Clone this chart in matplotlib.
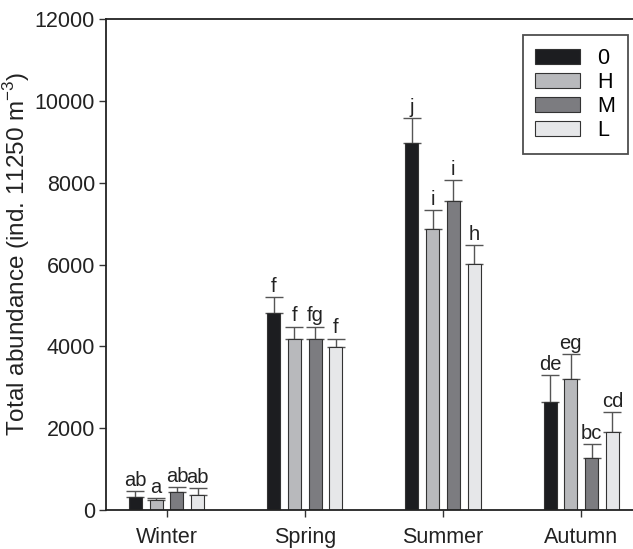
import matplotlib
matplotlib.use("Agg")
import matplotlib.pyplot as plt
import numpy as np

plt.rcParams["font.family"] = ["Liberation Sans", "DejaVu Sans"]
plt.rcParams["mathtext.fontset"] = "custom"
plt.rcParams["mathtext.rm"] = "Liberation Sans"

seasons = ["Winter", "Spring", "Summer", "Autumn"]
groups = ["0", "H", "M", "L"]
means = {
    "0": [320, 4810, 8980, 2650],
    "H": [245, 4170, 6860, 3195],
    "M": [440, 4170, 7555, 1280],
    "L": [370, 3990, 6015, 1915],
}
upper_err = {
    "0": [145, 395, 595, 650],
    "H": [45, 310, 475, 620],
    "M": [120, 310, 515, 325],
    "L": [170, 200, 465, 475],
}
letters = {
    "0": ["ab", "f", "j", "de"],
    "H": ["a", "f", "i", "eg"],
    "M": ["ab", "fg", "i", "bc"],
    "L": ["ab", "f", "h", "cd"],
}
colors = {"0": "#1c1d20", "H": "#b8b9bc", "M": "#7c7c80", "L": "#e6e7e9"}

fig = plt.figure(figsize=(6.33, 5.49), dpi=100)
ax = fig.add_axes([0.1675, 0.071, 0.84, 0.894])

x = np.arange(len(seasons))
width = 0.095
step = 0.15
for i, g in enumerate(groups):
    pos = x + (i - 1.5) * step
    ax.bar(pos, means[g], width, color=colors[g], edgecolor="#333333",
           linewidth=0.8, label=g, zorder=2)
    ax.errorbar(pos, means[g], yerr=[np.zeros(4), upper_err[g]], fmt="none",
                ecolor="#555555", elinewidth=1.0, capsize=6.5, capthick=1.0,
                zorder=1)
    for p, m, e, t in zip(pos, means[g], upper_err[g], letters[g]):
        ax.annotate(t, (p, m + e), xytext=(0, 1), textcoords="offset points",
                    ha="center", va="bottom", fontsize=14.5, color="#222222")

ax.set_xlim(-0.438, 3.409)
ax.set_ylim(0, 12000)
ax.set_yticks(np.arange(0, 12001, 2000))
ax.set_xticks(x)
ax.set_xticklabels(seasons)
ax.tick_params(axis="both", labelsize=15.5, length=5, width=1.0,
               color="#333333", labelcolor="#222222")
ax.tick_params(axis="x", pad=7)
ax.tick_params(axis="y", pad=3)
ax.set_ylabel("Total abundance (ind. 11250 m$^{-3}$)", fontsize=17.5,
              color="#222222")
ax.yaxis.set_label_coords(-0.14, 0.523)
ax.spines["right"].set_visible(False)
for s in ["left", "top", "bottom"]:
    ax.spines[s].set_linewidth(1.3)
    ax.spines[s].set_color("#222222")

leg = ax.legend(loc="upper right", bbox_to_anchor=(0.981, 0.967), fontsize=15.5,
                frameon=True, fancybox=False, handlelength=2.05,
                handleheight=0.7, labelspacing=0.14, handletextpad=0.8,
                borderpad=0.6, borderaxespad=0)
leg.get_frame().set_edgecolor("#222222")
leg.get_frame().set_linewidth(1.3)

fig.savefig("out.png", dpi=100)
